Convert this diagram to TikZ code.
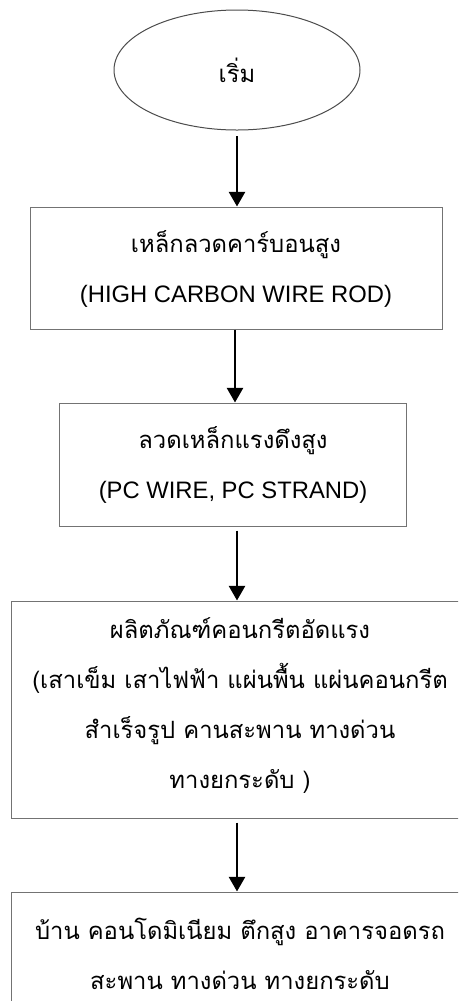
\documentclass[tikz,border=0pt]{standalone}
\usepackage{fontspec}
\setmainfont{Liberation Sans}
\newfontfamily\thai[Script=Thai]{Loma}
\usetikzlibrary{shapes.geometric,arrows.meta}
\tikzset{
  boxstyle/.style={draw=black!55, line width=0.75pt, rectangle, inner sep=0pt},
  txtstyle/.style={inner sep=0pt, align=center, font=\fontsize{17.85}{37.5}\selectfont},
  startstyle/.style={ellipse, inner sep=0pt,
    minimum width=184.5pt, minimum height=90pt, font=\fontsize{17.85}{37.5}\selectfont},
  arr/.style={line width=2pt, -{Triangle[width=12pt,length=11pt]}}
}
\begin{document}
\begin{tikzpicture}[x=0.75pt,y=-0.75pt]
\useasboundingbox (0,0) rectangle (458,1001);
\clip (0,0) rectangle (458,1001);
\fill[white] (0,0) rectangle (458,1001);
\node[startstyle] (start) at (237,70) {\thai เริ่ม};
\draw[black!70, line width=0.75pt] (start.center) ellipse [x radius=123, y radius=60];
\node[boxstyle, minimum width=309pt, minimum height=91.5pt] (b1) at (236,268) {};
\node[txtstyle] (t1) at (236,269) {\thai เหล็กลวดคาร์บอนสูง\\(HIGH CARBON WIRE ROD)};
\node[boxstyle, minimum width=260.25pt, minimum height=92.25pt] (b2) at (232.5,464.5) {};
\node[txtstyle] (t2) at (233,465) {\thai ลวดเหล็กแรงดึงสูง\\(PC WIRE, PC STRAND)};
\node[boxstyle, minimum width=343.5pt, minimum height=162.75pt] (b3) at (240,709.5) {};
\node[txtstyle] (t3) at (240,706)
  {\thai ผลิตภัณฑ์คอนกรีตอัดแรง\\\thai (เสาเข็ม เสาไฟฟ้า แผ่นพื้น แผ่นคอนกรีต\\\thai สำเร็จรูป คานสะพาน ทางด่วน\\\thai ทางยกระดับ )};
\node[boxstyle, minimum width=343.5pt, minimum height=97.5pt] (b4) at (240,957) {};
\node[txtstyle] (t4) at (240,954)
  {\thai บ้าน คอนโดมิเนียม ตึกสูง อาคารจอดรถ\\\thai สะพาน ทางด่วน ทางยกระดับ};
\coordinate (a1s) at ([yshift=-4.5pt]start.south);
\coordinate (a3s) at ([yshift=-3pt]b2.south -| start.south);
\coordinate (a4s) at ([yshift=-3pt]b3.south -| start.south);
\draw[arr] (a1s) -- (a1s |- b1.north);
\draw[arr] ([xshift=-1.5pt]b1.south -| start.south) -- ([xshift=-1.5pt]b2.north -| start.south);
\draw[arr] (a3s) -- (a3s |- b3.north);
\draw[arr] (a4s) -- (a4s |- b4.north);
\end{tikzpicture}
\end{document}
